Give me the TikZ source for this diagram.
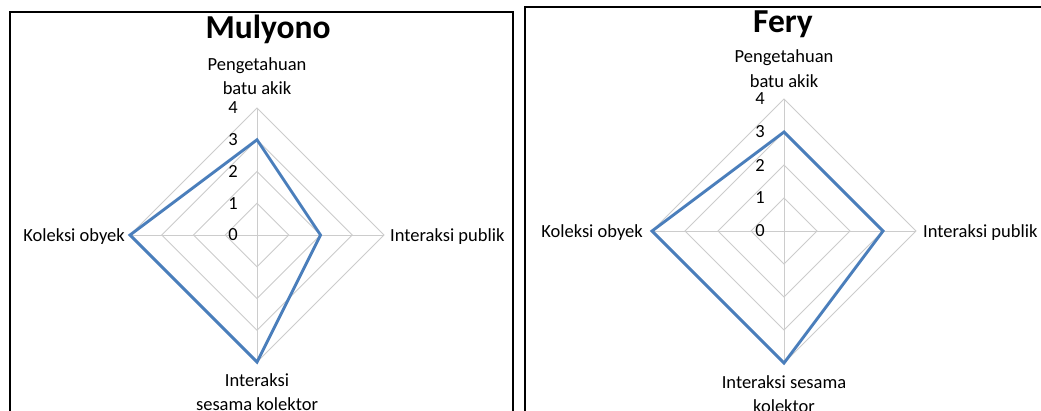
\documentclass[tikz,border=0pt]{standalone}
\usepackage{fontspec}
\setmainfont{Carlito}
\definecolor{gridgray}{RGB}{204,204,204}
\definecolor{serieblue}{RGB}{74,126,187}
\begin{document}
\begin{tikzpicture}[x=1pt,y=-1pt,
  frame/.style={draw=black,line width=1.8pt},
  gridline/.style={draw=gridgray,line width=0.9pt},
  series/.style={draw=serieblue,line width=2.9pt,line join=miter},
  axlabel/.style={font=\fontsize{18.5}{23}\selectfont,inner sep=0pt,anchor=base},
  ticklabel/.style={font=\fontsize{18.5}{22}\selectfont,inner sep=0pt,anchor=east},
  charttitle/.style={font=\fontsize{33.5}{38}\selectfont\bfseries,inner sep=0pt,anchor=base}]
\useasboundingbox (0,0) rectangle (1041,410);
\clip (0,0) rectangle (1041,410);
\fill[white] (0,0) rectangle (1041,410);

% frames
\draw[frame] (10,12) rectangle (513,440);
\draw[frame] (525,7) rectangle (1070,440);

% ---------- Mulyono ----------
\node[charttitle] (mtitle) at (268,38.5) {Mulyono};
\begin{scope}[shift={(257,235)}]
  \def\u{31.75}
  \coordinate (mc) at (0,0);
  \coordinate (mt) at (0,-4*\u);
  \coordinate (mr) at (4*\u,0);
  \coordinate (mb) at (0,4*\u);
  \coordinate (ml) at (-4*\u,0);
  \foreach \k in {1,2,3,4}
    \draw[gridline] (0,-\k*\u) -- (\k*\u,0) -- (0,\k*\u) -- (-\k*\u,0) -- cycle;
  \draw[gridline] (mc) -- (mt) (mc) -- (mr) (mc) -- (mb) (mc) -- (ml);
  \foreach \k in {0,1,2,3,4}
    \node[ticklabel] (mtick\k) at (-19,-\k*\u) {\k};
  \coordinate (mv1) at (0,-3*\u);
  \coordinate (mv2) at (2*\u,0);
  \coordinate (mv3) at (0,4*\u);
  \coordinate (mv4) at (-4*\u,0);
  \draw[series] (mv1) -- (mv2) -- (mv3) -- (mv4) -- cycle;
\end{scope}
\node[axlabel] (ma1) at (257,70.5) {Pengetahuan};
\node[axlabel] (ma1b) at (257,94) {batu akik};
\node[axlabel,anchor=base west] (ma2) at (390,241) {Interaksi publik};
\node[axlabel] (ma3) at (257,386) {Interaksi};
\node[axlabel] (ma3b) at (257,410) {sesama kolektor};
\node[axlabel,anchor=base east] (ma4) at (125,241) {Koleksi obyek};

% ---------- Fery ----------
\node[charttitle] (ftitle) at (783,32.5) {Fery};
\begin{scope}[shift={(784,231)}]
  \def\u{33}
  \coordinate (fc) at (0,0);
  \coordinate (ft) at (0,-4*\u);
  \coordinate (fr) at (4*\u,0);
  \coordinate (fb) at (0,4*\u);
  \coordinate (fl) at (-4*\u,0);
  \foreach \k in {1,2,3,4}
    \draw[gridline] (0,-\k*\u) -- (\k*\u,0) -- (0,\k*\u) -- (-\k*\u,0) -- cycle;
  \draw[gridline] (fc) -- (ft) (fc) -- (fr) (fc) -- (fb) (fc) -- (fl);
  \foreach \k in {0,1,2,3,4}
    \node[ticklabel] (ftick\k) at (-19,-\k*\u) {\k};
  \coordinate (fv1) at (0,-3*\u);
  \coordinate (fv2) at (3*\u,0);
  \coordinate (fv3) at (0,4*\u);
  \coordinate (fv4) at (-4*\u,0);
  \draw[series] (fv1) -- (fv2) -- (fv3) -- (fv4) -- cycle;
\end{scope}
\node[axlabel] (fa1) at (784,62.5) {Pengetahuan};
\node[axlabel] (fa1b) at (784,87) {batu akik};
\node[axlabel,anchor=base west] (fa2) at (923,237) {Interaksi publik};
\node[axlabel] (fa3) at (784,388) {Interaksi sesama};
\node[axlabel] (fa3b) at (784,412) {kolektor};
\node[axlabel,anchor=base east] (fa4) at (643,237) {Koleksi obyek};
\end{tikzpicture}
\end{document}
